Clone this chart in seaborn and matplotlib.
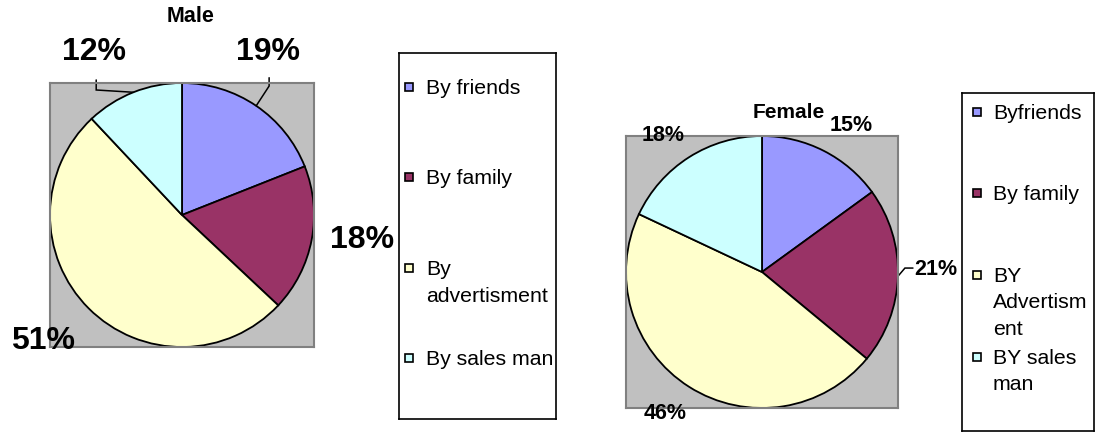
import numpy as np
import matplotlib
matplotlib.use("Agg")
import matplotlib.pyplot as plt
import seaborn as sns
from matplotlib.patches import Rectangle

# data
male_labels = ["By friends", "By family", "By\nadvertisment", "By sales man"]
male_values = [19, 18, 51, 12]
female_labels = ["Byfriends", "By family", "BY\nAdvertism\nent", "BY sales\nman"]
female_values = [15, 21, 46, 18]

sns.set_theme(style="white")
plt.rcParams["font.family"] = ["Liberation Sans", "DejaVu Sans"]
plt.rcParams["text.color"] = "black"

colors = sns.color_palette(["#9999FF", "#993366", "#FFFFCC", "#CCFFFF"])

W, H = 1096, 432
fig = plt.figure(figsize=(W / 100, H / 100), dpi=100)


def px_axes(x0, y0, x1, y1):
    # axes placed in pixel coords (origin top-left)
    return fig.add_axes([x0 / W, 1 - y1 / H, (x1 - x0) / W, (y1 - y0) / H])


def draw_pie(box, values, title, title_xy, title_size, pct_xy, pct_size, leaders):
    ax = px_axes(*box)
    wedges, _, pcts = ax.pie(values, colors=colors, startangle=90, counterclock=False,
                             autopct=lambda p: f"{p:.0f}%", frame=True,
                             wedgeprops=dict(edgecolor="black", linewidth=1.3))
    ax.set_xlim(-1, 1)
    ax.set_ylim(-1, 1)
    ax.set_xticks([])
    ax.set_yticks([])
    ax.set_facecolor("#C0C0C0")
    for s in ax.spines.values():
        s.set_visible(True)
        s.set_color("#808080")
        s.set_linewidth(1.5)
    for t, xy in zip(pcts, pct_xy):
        t.set_position(xy)
        t.set_fontsize(pct_size)
        t.set_fontweight("bold")
        t.set_color("black")
    for i, (xs, ys) in leaders.items():
        mid = np.deg2rad((wedges[i].theta1 + wedges[i].theta2) / 2)
        ax.plot([np.cos(mid)] + xs, [np.sin(mid)] + ys, color="black", lw=1.1,
                clip_on=False, solid_joinstyle="miter")
    fig.text(title_xy[0] / W, 1 - title_xy[1] / H, title, fontsize=title_size,
             fontweight="bold", ha="center", va="center", color="black")


def draw_legend(box, labels, marker_x, text_x, rows):
    x0, y0, x1, y1 = box
    ax = px_axes(*box)
    ax.set_xlim(x0, x1)
    ax.set_ylim(y1, y0)
    ax.set_xticks([])
    ax.set_yticks([])
    ax.set_facecolor("white")
    for s in ax.spines.values():
        s.set_visible(True)
        s.set_color("black")
        s.set_linewidth(1.2)
    for lab, col, yc in zip(labels, colors, rows):
        ax.add_patch(Rectangle((marker_x, yc - 4), 8, 8, facecolor=col,
                               edgecolor="black", lw=1.2))
        ax.text(text_x, yc - 8, lab, fontsize=15.3, va="top", ha="left",
                linespacing=1.5, color="black")


# Male
draw_pie((50, 83, 314, 347), male_values, "Male", (191, 16), 15.5,
         [(0.652, 1.235), (1.364, -0.189), (-1.053, -0.955), (-0.667, 1.235)], 23,
         {0: ([0.66, 0.66], [0.977, 1.04]), 3: ([-0.65, -0.65], [0.947, 1.023])})
draw_legend((399, 53, 556, 419), male_labels, 405, 426, [87, 177, 268, 358])

# Female
draw_pie((626, 136, 898, 408), female_values, "Female", (789, 113), 15,
         [(0.654, 1.074), (1.28, 0.022), (-0.713, -1.037), (-0.728, 1.007)], 15.5,
         {1: ([1.051, 1.11], [0.029, 0.029])})
draw_legend((962, 93, 1094, 431), female_labels, 973, 993, [112, 193, 275, 357])

fig.savefig("out.png", dpi=100, facecolor="white")
